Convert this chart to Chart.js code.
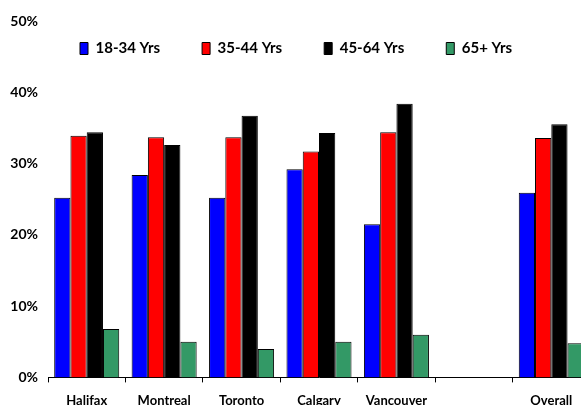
<!DOCTYPE html>
<html>
<head>
<meta charset="utf-8">
<script src="https://cdn.jsdelivr.net/npm/chart.js@4.4.1/dist/chart.umd.min.js"></script>
<style>
  html, body { margin: 0; padding: 0; background: #fff; overflow: hidden; }
  #frame { width: 581px; height: 405px; overflow: hidden; position: relative; }
  #holder { width: 595px; height: 422px; position: absolute; left: 0; top: 0; }
</style>
</head>
<body>
<div id="frame">
  <div id="holder"><canvas id="chart"></canvas></div>
</div>
<script>
// categories (the blank one is the gap before "Overall")
const cities = ['Halifax', 'Montreal', 'Toronto', 'Calgary', 'Vancouver', '', 'Overall'];

// share of respondents by age group, in %
const age18to34 = [25.2, 28.4, 25.2, 29.2, 21.5, null, 25.9];
const age35to44 = [33.9, 33.7, 33.7, 31.7, 34.4, null, 33.6];
const age45to64 = [34.4, 32.6, 36.7, 34.3, 38.4, null, 35.5];
const age65plus = [6.8, 5.0, 4.0, 5.0, 6.0, null, 4.8];

const seriesNames = ['18-34 Yrs', '35-44 Yrs', '45-64 Yrs', '65+ Yrs'];
const seriesColors = ['#0000ff', '#ff0000', '#000000', '#339966'];

const yTicks = [0, 10, 20, 30, 40, 50];

const FONT = 'Lato, "DejaVu Sans", sans-serif';

// the legend sits inside the plot, so keep it out of the layout and place it by hand
const legendPlace = {
    id: 'legendPlace',
    beforeUpdate(chart) {
        const lg = chart.legend;
        if (lg && !lg.patched) {
            const fit = lg.fit;
            lg.fit = function () {
                fit.call(this);
                this.realHeight = this.height;
                this.height = 0;
            };
            lg.patched = true;
        }
    },
    afterLayout(chart, args, opts) {
        const lg = chart.legend;
        if (!lg) return;
        const pad = lg.options.labels.padding;
        lg.left = opts.x - pad;
        lg.right = chart.width;
        lg.top = opts.y - pad;
        lg.bottom = lg.top + (lg.realHeight || 60);
    }
};

const datasets = [age18to34, age35to44, age45to64, age65plus].map((vals, i) => ({
    label: seriesNames[i],
    data: vals,
    backgroundColor: seriesColors[i],
    borderColor: '#000',
    borderWidth: 1,
    borderSkipped: 'bottom'
}));

new Chart(document.getElementById('chart'), {
    type: 'bar',
    data: { labels: cities, datasets: datasets },
    plugins: [legendPlace],
    options: {
        responsive: true,
        maintainAspectRatio: false,
        animation: false,
        layout: { padding: { left: 10, top: 21, right: 5, bottom: 2 } },
        datasets: {
            bar: { categoryPercentage: 0.84, barPercentage: 1.0 }
        },
        scales: {
            x: {
                grid: {
                    offset: true,
                    drawOnChartArea: false,
                    drawTicks: true,
                    tickLength: 5,
                    color: '#000'
                },
                border: { color: '#000', width: 1 },
                ticks: {
                    color: '#000',
                    padding: 11,
                    maxRotation: 0,
                    autoSkip: false,
                    font: { family: FONT, size: 13, weight: 'bold' }
                }
            },
            y: {
                min: yTicks[0],
                max: yTicks[yTicks.length - 1],
                afterFit(scale) { scale.width = 38; },
                afterBuildTicks(scale) { scale.ticks = yTicks.map(v => ({ value: v })); },
                grid: { display: false, drawTicks: false },
                border: { display: false },
                ticks: {
                    color: '#000',
                    padding: 10,
                    callback: v => v + '%',
                    font: { family: FONT, size: 14, weight: 'bold' }
                }
            }
        },
        plugins: {
            legendPlace: { x: 80, y: 41 },
            legend: {
                position: 'top',
                align: 'start',
                labels: {
                    color: '#000',
                    boxWidth: 8,
                    boxHeight: 12,
                    padding: 42,
                    font: { family: FONT, size: 15, weight: 'bold' }
                }
            },
            tooltip: { enabled: false }
        }
    }
});
</script>
</body>
</html>
